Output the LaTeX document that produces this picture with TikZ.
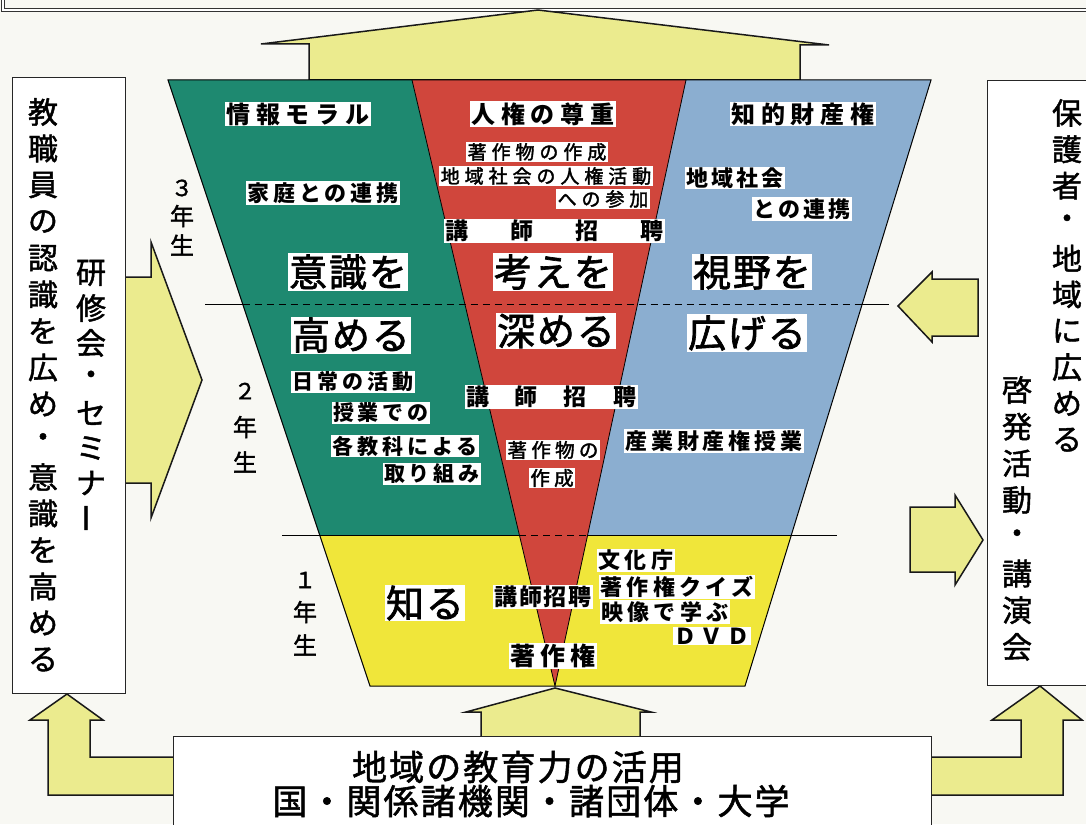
\documentclass[tikz,border=0pt]{standalone}
\usepackage{fontspec}
\newfontfamily\jp{Noto Sans CJK JP}
\newcommand\jf[3]{\jp\fontsize{#1}{#1}\selectfont\addfontfeature{LetterSpace=#2,FakeBold=#3}}
\newcommand\jfb[2]{\jp\bfseries\fontsize{#1}{#1}\selectfont\addfontfeature{LetterSpace=#2}}
\definecolor{bg}{HTML}{F8F8F3}
\definecolor{grn}{HTML}{1E8970}
\definecolor{rd}{HTML}{D0463C}
\definecolor{bl}{HTML}{8BAED0}
\definecolor{yl}{HTML}{F0E63A}
\definecolor{ar}{HTML}{EBEB8E}
\tikzset{
  arrowst/.style={fill=ar, draw=black!90, line width=1.5pt, line join=miter},
  lab/.style={fill=white, inner xsep=1.5pt, inner ysep=1pt, text=black},
  vch/.style={inner sep=0pt, text=black},
  frame/.style={draw=black!85, line width=1pt, fill=white},
}
\begin{document}
\begin{tikzpicture}[x=1pt,y=-1pt]
\useasboundingbox[fill=bg] (0,0) rectangle (1086,824);

% top frame
\draw[draw=black!80, double=white, double distance=1.5pt, line width=0.9pt] (3,-30) rectangle (1110,10);

% top arrow
\filldraw[arrowst] (309,80) -- (309,44) -- (261,44) -- (538,10) -- (829,45) -- (800,45) -- (800,80) -- cycle;

% trapezoid
\fill[yl] (319.7,535) -- (791.3,535) -- (745,686) -- (370,686) -- cycle;
\fill[grn] (168,80) -- (412,80) -- (519.4,535) -- (319.7,535) -- cycle;
\fill[bl] (686,80) -- (931,80) -- (791.3,535) -- (587.6,535) -- cycle;
\fill[rd] (412,80) -- (686,80) -- (555,686) -- cycle;
\draw[line width=1pt] (168,80) -- (931,80) -- (745,686) -- (370,686) -- cycle;
\draw[line width=0.8pt] (412,80) -- (555,686) -- (686,80);

% level lines
\draw[line width=0.9pt] (205,304) -- (242.5,304);
\draw[line width=0.9pt, dash pattern=on 7pt off 5pt] (242.5,304) -- (862.2,304);
\draw[line width=0.9pt] (862.2,304) -- (889,304);
\draw[line width=0.9pt] (282,535) -- (519.4,535);
\draw[line width=0.9pt, dash pattern=on 7pt off 5pt] (519.4,535) -- (587.6,535);
\draw[line width=0.9pt] (587.6,535) -- (837,535);

% side arrows
\filldraw[arrowst] (125,277) -- (151,277) -- (151,242) -- (202,380) -- (151,518) -- (151,483) -- (125,483) -- cycle;
\filldraw[arrowst] (978,279) -- (932,279) -- (932,272) -- (898,306) -- (932,342) -- (932,336) -- (978,336) -- cycle;
\filldraw[arrowst] (910,507) -- (955,507) -- (955,495) -- (983,540) -- (955,585) -- (955,572) -- (910,572) -- cycle;
% bottom arrows
\filldraw[arrowst] (481,740) -- (481,712) -- (466,712) -- (555,688) -- (651,712) -- (640,712) -- (640,740) -- cycle;
\filldraw[arrowst] (176,757) -- (90,757) -- (90,720) -- (103,720) -- (67,694) -- (30,720) -- (48,720) -- (48,795) -- (176,795) -- cycle;
\filldraw[arrowst] (928,757) -- (1021,757) -- (1021,720) -- (992,720) -- (1040,686) -- (1082,720) -- (1063,720) -- (1063,795) -- (928,795) -- cycle;

% side boxes
\draw[frame] (12,78) rectangle (125,693);
\draw[frame] (987,81) rectangle (1110,685);
\draw[frame] (173,736) rectangle (931,850);

% vertical texts
\foreach \c [count=\i from 0] in {教,職,員,の,認,識,を,広,め,・,意,識,を,高,め,る}
  \node[vch, font=\jf{30}{0}{1.5}] (la\i) at (43,112+36.5*\i) {\c};
\foreach \c [count=\i from 0] in {研,修,会,・,セ,ミ,ナ,{\rotatebox[origin=c]{90}{ー}}}
  \node[vch, font=\jf{30}{0}{1.5}] (lb\i) at (91,273+35*\i) {\c};
\foreach \c [count=\i from 0] in {保,護,者,・,地,域,に,広,め,る}
  \node[vch, font=\jf{30}{0}{1.5}] (ra\i) at (1067,113+36.3*\i) {\c};
\foreach \c [count=\i from 0] in {啓,発,活,動,・,講,演,会}
  \node[vch, font=\jf{30}{0}{1.5}] (rb\i) at (1017,390+36.7*\i) {\c};

% year labels
\node[vch, font=\jf{22}{0}{1.6}] (y3a) at (182,188) {３};
\node[vch, font=\jf{24}{0}{1.6}] (y3b) at (182,216) {年};
\node[vch, font=\jf{24}{0}{1.6}] (y3c) at (182,245) {生};
\node[vch, font=\jf{22}{0}{1.6}] (y2a) at (245,391) {２};
\node[vch, font=\jf{24}{0}{1.6}] (y2b) at (245,427) {年};
\node[vch, font=\jf{24}{0}{1.6}] (y2c) at (245,462) {生};
\node[vch, font=\jf{22}{0}{1.6}] (y1a) at (305,580) {１};
\node[vch, font=\jf{24}{0}{1.6}] (y1b) at (305,612) {年};
\node[vch, font=\jf{24}{0}{1.6}] (y1c) at (305,645) {生};

% labels: grade 3
\node[lab, font=\jfb{24}{23}] (g3a) at (298,114) {情報モラル};
\node[lab, font=\jfb{24}{23}] (g3b) at (543,114) {人権の尊重};
\node[lab, font=\jfb{24}{23}] (g3c) at (803,114) {知的財産権};
\node[lab, font=\jf{19}{26}{2}] (g3d) at (537,152) {著作物の作成};
\node[lab, font=\jf{19}{26}{2}] (g3e) at (546,176) {地域社会の人権活動};
\node[lab, font=\jf{19}{26}{2}] (g3f) at (603,199) {への参加};
\node[lab, font=\jfb{22}{18}] (g3g) at (323,193) {家庭との連携};
\node[lab, font=\jfb{22}{14}] (g3h) at (735,178) {地域社会};
\node[lab, font=\jfb{22}{14}] (g3i) at (802,209) {との連携};
\node[lab, font=\jfb{23}{0}] (g3j) at (554,231) {講\hspace{42pt}師\hspace{42pt}招\hspace{42pt}聘};
\node[lab, font=\jf{38}{5}{1.8}] (big1) at (348,272) {意識を};
\node[lab, font=\jf{38}{5}{1.8}] (big2) at (553,272) {考えを};
\node[lab, font=\jf{38}{5}{1.8}] (big3) at (752,272) {視野を};
\node[lab, font=\jf{38}{5}{1.8}] (big4) at (351,335) {高める};
\node[lab, font=\jf{38}{5}{1.8}] (big5) at (556,331) {深める};
\node[lab, font=\jf{38}{5}{1.8}] (big6) at (747,333) {広げる};

% grade 2
\node[lab, font=\jfb{21}{19}] (g2a) at (353,382) {日常の活動};
\node[lab, font=\jfb{21}{19}] (g2b) at (381,413) {授業での};
\node[lab, font=\jfb{21}{19}] (g2c) at (405,446) {各教科による};
\node[lab, font=\jfb{21}{19}] (g2d) at (432,474) {取り組み};
\node[lab, font=\jfb{23}{0}] (g2e) at (551,397) {講\hspace{26pt}師\hspace{26pt}招\hspace{26pt}聘};
\node[lab, font=\jf{19.5}{22}{2}] (g2f) at (553,450) {著作物の};
\node[lab, font=\jf{19.5}{22}{2}] (g2g) at (552,478) {作成};
\node[lab, font=\jfb{22}{17}] (g2h) at (714,441) {産業財産権授業};

% grade 1
\node[lab, font=\jf{38}{5}{1.8}] (g1a) at (425,603) {知る};
\node[lab, font=\jfb{23}{8}] (g1b) at (543,597) {講師招聘};
\node[lab, font=\jfb{22}{20}] (g1c) at (636,560) {文化庁};
\node[lab, font=\jfb{22}{20}] (g1d) at (677,587) {著作権クイズ};
\node[lab, font=\jfb{22}{20}] (g1e) at (665,612) {映像で学ぶ};
\node[lab, font=\jfb{22}{20}] (g1f) at (712,636) {ＤＶＤ};
\node[lab, font=\jfb{25}{20}] (g1g) at (553,656) {著作権};

% bottom box text
\node[vch, font=\jf{35}{6}{1.5}] (bt1) at (518,767) {地域の教育力の活用};
\node[vch, font=\jf{35}{6}{1.5}] (bt2) at (531,801) {国・関係諸機関・諸団体・大学};
\end{tikzpicture}
\end{document}
